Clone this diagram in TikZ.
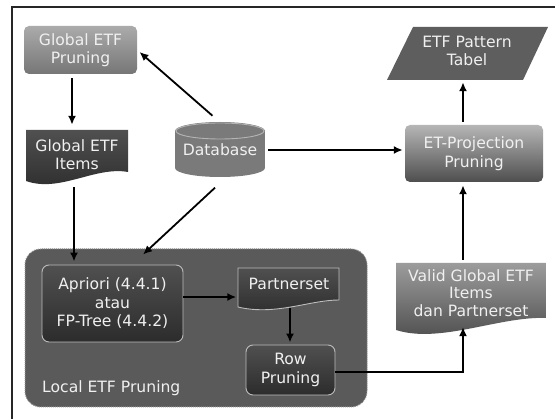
\documentclass[tikz,border=0pt]{standalone}
\usepackage{fontspec}
\setmainfont{DejaVu Sans}
\usetikzlibrary{arrows.meta,calc}
\definecolor{gpTop}{HTML}{ABABAB}
\definecolor{gpBot}{HTML}{767676}
\definecolor{darkTop}{HTML}{505050}
\definecolor{darkBot}{HTML}{2C2C2C}
\definecolor{dbGray}{HTML}{7A7A7A}
\definecolor{dbEdge}{HTML}{B4B4B4}
\definecolor{tabGray}{HTML}{5E5E5E}
\definecolor{etTop}{HTML}{B6B6B6}
\definecolor{etBot}{HTML}{4E4E4E}
\definecolor{vaTop}{HTML}{9C9C9C}
\definecolor{vaBot}{HTML}{4A4A4A}
\definecolor{grpGray}{HTML}{5A5A5A}
\definecolor{grpEdge}{HTML}{8C8C8C}
\definecolor{lightEdge}{HTML}{BDBDBD}
\definecolor{txtCol}{HTML}{F0F0F0}
\begin{document}
\begin{tikzpicture}[x=1pt,y=-1pt,
  arr/.style={line width=1.8pt,-{Latex[length=9pt,width=8pt]}},
  txt/.style={text=txtCol,font=\fontsize{15.6}{18.5}\selectfont,align=center,inner sep=0pt},
  box/.style={txt,rounded corners=5pt},
  innerbox/.style={txt,rounded corners=7pt,draw=lightEdge,line width=0.9pt,top color=darkTop,bottom color=darkBot}
]
\useasboundingbox (0,0) rectangle (555,419);
\fill[white] (0,0) rectangle (555,419);
\draw[line width=1.5pt,black!85] (12,419) -- (12,7) -- (555,7);

% helper coordinates
\coordinate (xa) at (463,0);
\coordinate (xg) at (72,0);
\coordinate (xi) at (74,0);
\coordinate (xp) at (290,0);
\coordinate (ya) at (0,297);
\coordinate (yd) at (0,150);
\coordinate (yr) at (0,372);

% group
\node[draw=grpEdge,densely dotted,line width=1pt,fill=grpGray,rounded corners=16pt,
      minimum width=342pt,minimum height=158pt,inner sep=0pt] (grp) at (196,328) {};
\node[txt,anchor=west] (lbl) at (42,388) {Local ETF Pruning};

% Global ETF Pruning
\node[box,top color=gpTop,bottom color=gpBot,minimum width=113pt,minimum height=48pt] (gp) at (80.5,50) {Global ETF\\Pruning};

% Global ETF Items (document)
\shade[top color=darkTop,bottom color=darkBot] (26,130) -- (128,130) -- (128,172)
  .. controls (95,166) and (60,193) .. (26,181) -- cycle;
\node[txt,minimum width=102pt,minimum height=55pt] (gi) at (77,154.5) {Global ETF\\Items};

% Database cylinder
\fill[dbGray] (220,168) ellipse[x radius=45,y radius=9];
\fill[dbGray] (175,131) rectangle (265,168);
\fill[dbGray] (220,131) ellipse[x radius=45,y radius=9];
\draw[dbEdge,line width=0.9pt] (220,131) ellipse[x radius=44,y radius=8];
\node[txt,minimum width=90pt,minimum height=55pt] (db) at (220,150) {Database};

% ETF Pattern Tabel
\fill[tabGray] (413,27) -- (548,27) -- (523,80) -- (387,80) -- cycle;
\node[txt,minimum width=110pt,minimum height=50pt] (tab) at (467,51) {ETF Pattern\\Tabel};

% ET-Projection Pruning
\node[box,top color=etTop,bottom color=etBot,minimum width=138pt,minimum height=57pt] (etp) at (474,153.5) {ET-Projection\\Pruning};

% Valid Global ETF Items (document)
\shade[top color=vaTop,bottom color=vaBot] (396,263) -- (546,263) -- (546,318)
  .. controls (500,316) and (440,344) .. (396,330) -- cycle;
\node[txt,font=\fontsize{15.6}{17.5}\selectfont,minimum width=150pt,minimum height=62pt] (valid) at (471,293) {Valid Global ETF\\Items\\dan Partnerset};

% Apriori
\node[innerbox,minimum width=141pt,minimum height=77pt] (ap) at (112.5,303.5) {Apriori (4.4.1)\\atau\\FP-Tree (4.4.2)};

% Partnerset (document)
\shadedraw[draw=lightEdge,line width=0.9pt,top color=darkTop,bottom color=darkBot]
  (238,268) -- (339,268) -- (339,300) .. controls (310,300) and (275,316) .. (238,307) -- cycle;
\node[txt,minimum width=101pt,minimum height=46pt] (pt) at (289,284) {Partnerset};

% Row Pruning
\node[innerbox,minimum width=89pt,minimum height=50pt] (row) at (290.5,370) {Row\\Pruning};

% connectors
\draw[arr,shorten <=4pt,shorten >=2pt] (gp.south -| xg) -- (gi.north -| xg);
\draw[arr,shorten <=5pt,shorten >=3pt] (gi.south -| xi) -- (ap.north -| xi);
\draw[arr,shorten <=10pt,shorten >=3pt] (db.north) -- (gp.east);
\draw[arr] ($(db.south)+(-5,10)$) -- ($(ap.north)+(30.5,-10)$);
\draw[arr,shorten <=3pt,shorten >=2pt] (db.east |- yd) -- (etp.west |- yd);
\draw[arr,shorten <=3pt,shorten >=6pt] (etp.north -| xa) -- (tab.south -| xa);
\draw[arr,shorten <=2pt,shorten >=3pt] (valid.north -| xa) -- (etp.south -| xa);
\draw[arr,shorten >=2pt] (ap.east |- ya) -- (pt.west |- ya);
\draw[arr,shorten <=1pt,shorten >=2pt] (pt.south -| xp) -- (row.north -| xp);
\draw[arr,line width=1.3pt,shorten >=3pt] (row.east |- yr) -- (xa |- yr) -- (valid.south -| xa);
\end{tikzpicture}
\end{document}
